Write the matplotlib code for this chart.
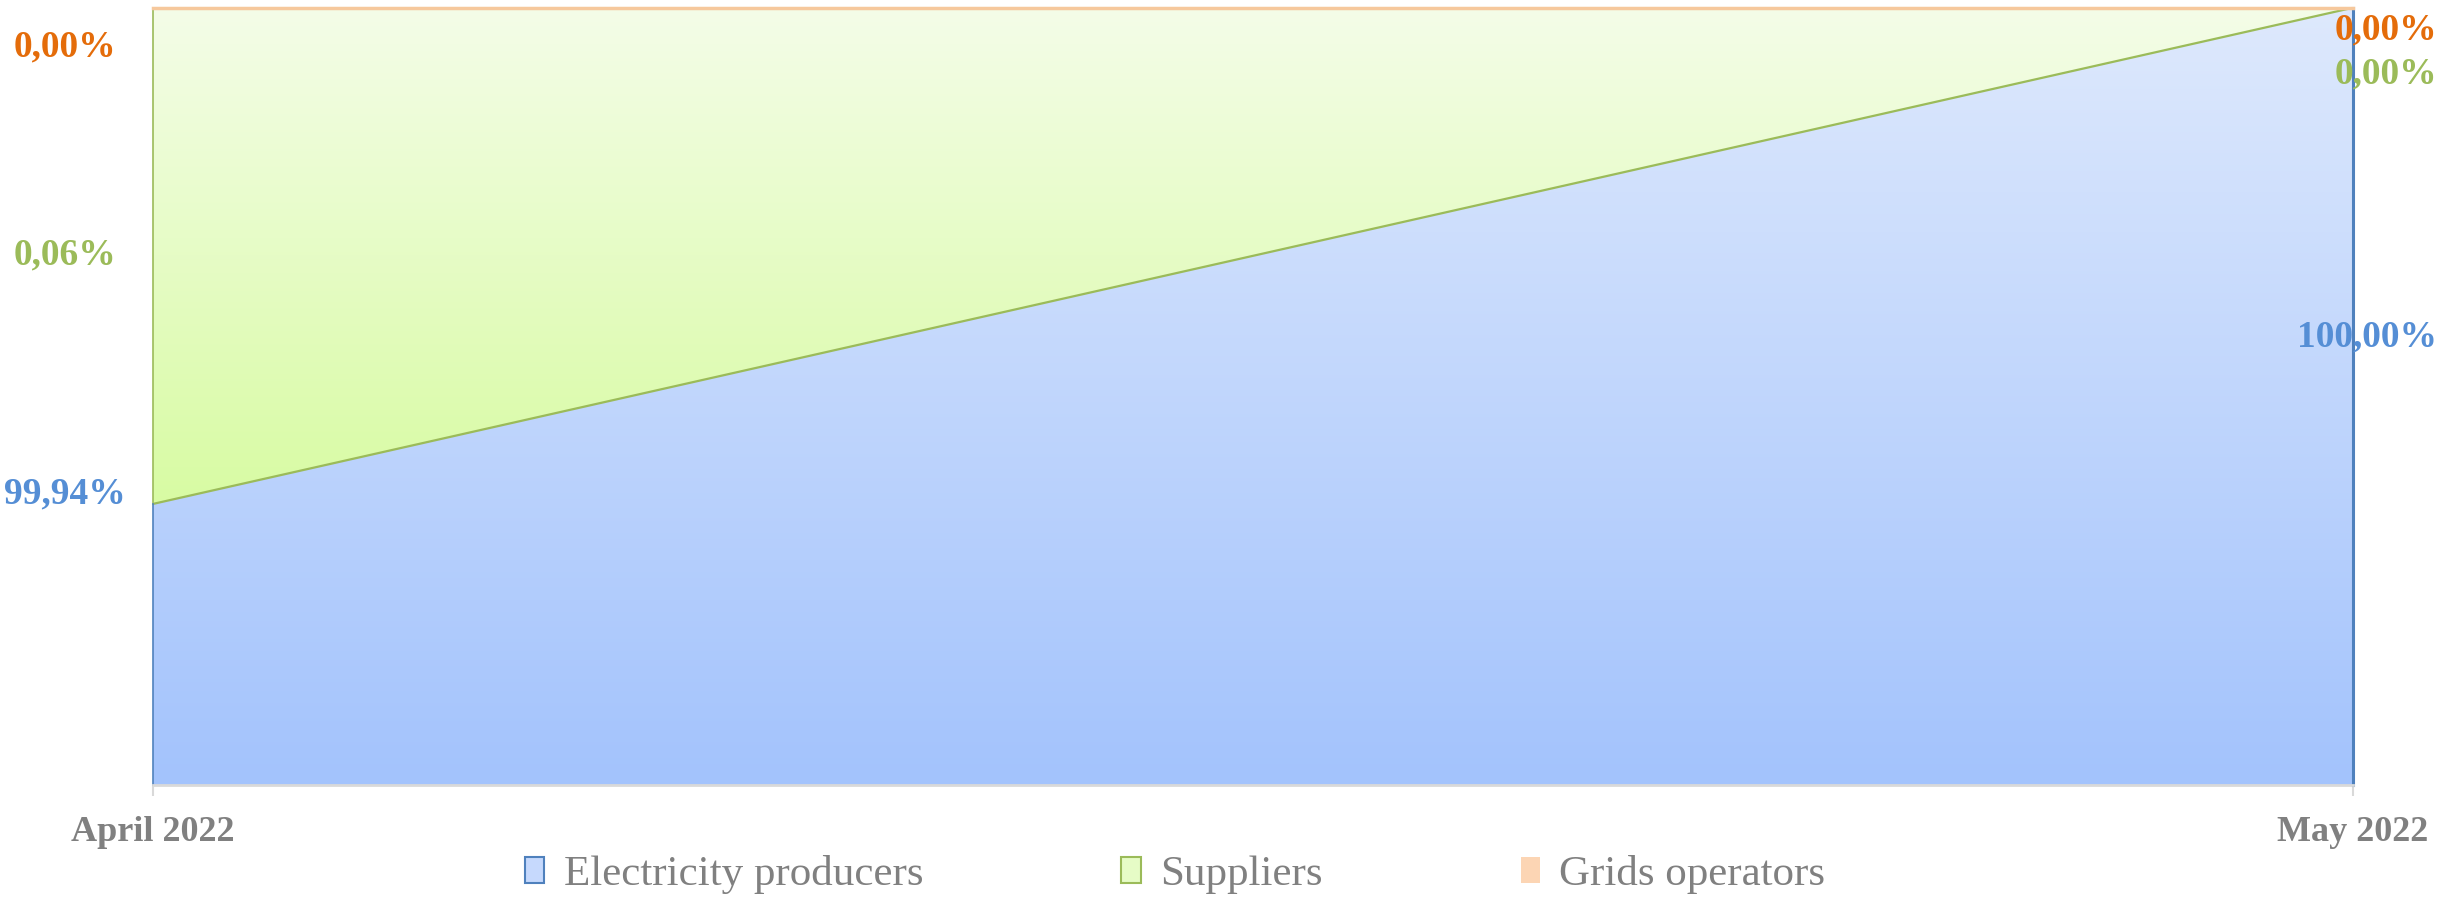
import numpy as np
import matplotlib
matplotlib.use("Agg")
import matplotlib.pyplot as plt
from matplotlib.patches import Patch
from matplotlib.colors import to_rgba
from matplotlib import transforms

# Data (share of total, %)
months = ["April 2022", "May 2022"]
producers = [99.94, 100.00]
suppliers = [0.06, 0.00]
grids = [0.00, 0.00]
series_names = ["Electricity producers", "Suppliers", "Grids operators"]

label_texts = {
    "producers": ["99,94%", "100,00%"],
    "suppliers": ["0,06%", "0,00%"],
    "grids": ["0,00%", "0,00%"],
}

plt.rcParams['font.family'] = ['Liberation Serif', 'DejaVu Serif']

fig = plt.figure(figsize=(24.38, 9.01), dpi=100)
ax = fig.add_axes([0.0628, 0.1287, 0.9023, 0.8627])

x = np.arange(len(months))
y_min, y_max = 99.906, 100.0
base = np.full(len(x), y_min)
top_prod = np.array(producers)
top_sup = top_prod + np.array(suppliers)
top_grid = top_sup + np.array(grids)


def gradient_fill(lower, upper, c_top, c_bottom, g_lo, g_hi):
    poly = ax.fill_between(x, lower, upper, facecolor='none', edgecolor='none')
    n = 256
    t = np.linspace(0, 1, n)[:, None]
    ct = np.array(to_rgba(c_top))
    cb = np.array(to_rgba(c_bottom))
    img = (ct * (1 - t) + cb * t)[:, None, :]
    im = ax.imshow(img, extent=[x[0], x[-1], g_lo, g_hi], aspect='auto',
                   origin='upper', zorder=1)
    im.set_clip_path(poly.get_paths()[0], transform=ax.transData)


# blue producers, gradient over whole plot
gradient_fill(base, top_prod, '#dee9fd', '#a3c3fc', y_min, y_max)
# green suppliers, gradient over its own box
gradient_fill(top_prod, top_sup, '#f4fde8', '#d8fba3', min(top_prod), y_max)

# series borders
ax.plot(x, top_prod, color='#9bbb59', lw=1.6, zorder=3)
ax.plot([x[0], x[0]], [top_prod[0], top_sup[0]], color='#9bbb59', lw=1.2, zorder=3, clip_on=False)
ax.plot([x[0], x[0]], [y_min, top_prod[0]], color='#4f81bd', lw=1.2, zorder=3, clip_on=False)
ax.plot([x[-1], x[-1]], [y_min, top_prod[-1]], color='#4f81bd', lw=2.2, zorder=3, clip_on=False)
ax.plot(x, top_grid, color='#f6c89c', lw=2.5, zorder=4, clip_on=False)

ax.set_xlim(x[0], x[-1])
ax.set_ylim(y_min, y_max)
ax.set_yticks([])
for s in ['top', 'left', 'right']:
    ax.spines[s].set_visible(False)
ax.spines['bottom'].set_color('#d9d9d9')
ax.spines['bottom'].set_linewidth(2)
ax.spines['bottom'].set_zorder(5)

ax.set_xticks(x)
ax.set_xticklabels(months, fontsize=26, fontweight='bold', color='#808080')
ax.tick_params(axis='x', length=8, width=1.5, color='#d9d9d9', pad=14)

# data labels
trans = transforms.blended_transform_factory(fig.transFigure, ax.transAxes)
left_pos = {"grids": 0.949, "suppliers": 0.682, "producers": 0.374}
right_pos = {"grids": 0.972, "suppliers": 0.915, "producers": 0.577}
colors = {"grids": '#e46c0a', "suppliers": '#9bbb59', "producers": '#558ed5'}
for key in ["producers", "suppliers", "grids"]:
    ax.text(0.0267, left_pos[key], label_texts[key][0], transform=trans,
            ha='center', va='center', fontsize=27, fontweight='bold',
            color=colors[key], clip_on=False)
    ax.text(0.9995, right_pos[key], label_texts[key][1], transform=trans,
            ha='right', va='center', fontsize=27, fontweight='bold',
            color=colors[key], clip_on=False, zorder=6)

handles = [
    Patch(facecolor='#c6d9fd', edgecolor='#4f81bd', linewidth=1.5),
    Patch(facecolor='#e6fcc6', edgecolor='#9bbb59', linewidth=1.5),
    Patch(facecolor='#fcd5b4', edgecolor='none'),
]
fig.legend(handles, series_names, loc='center', bbox_to_anchor=(0.482, 0.029),
           ncol=3, frameon=False, fontsize=31, labelcolor='#808080',
           handlelength=0.45, handleheight=0.55, handletextpad=0.45,
           columnspacing=4.6)

fig.savefig("out.png", dpi=100)
